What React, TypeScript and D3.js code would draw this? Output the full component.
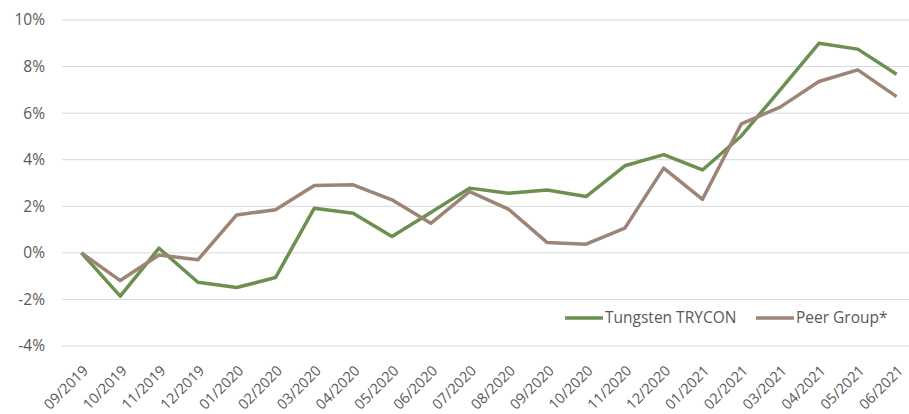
import React, { useRef, useEffect } from "react"
import * as d3 from "d3"

const months = [
  "09/2019", "10/2019", "11/2019", "12/2019", "01/2020", "02/2020", "03/2020",
  "04/2020", "05/2020", "06/2020", "07/2020", "08/2020", "09/2020", "10/2020",
  "11/2020", "12/2020", "01/2021", "02/2021", "03/2021", "04/2021", "05/2021",
  "06/2021",
]
const trycon = [
  0, -1.86, 0.2, -1.26, -1.49, -1.06, 1.92, 1.7, 0.7, 1.73, 2.78, 2.56, 2.7,
  2.42, 3.74, 4.22, 3.56, 5.02, 7.0, 9.0, 8.75, 7.67,
]
const peers = [
  0, -1.19, -0.09, -0.3, 1.63, 1.85, 2.89, 2.92, 2.28, 1.27, 2.63, 1.88, 0.44,
  0.37, 1.06, 3.64, 2.3, 5.54, 6.26, 7.36, 7.86, 6.71,
]
const yTicks = [-4, -2, 0, 2, 4, 6, 8, 10]
const seriesNames = ["Tungsten TRYCON", "Peer Group*"]
const colors = ["#6b904f", "#9c8576"]

const width = 909
const height = 414
const font = "'Open Sans', sans-serif"

export default function App() {
  const ref = useRef<SVGSVGElement>(null)

  useEffect(() => {
    const svg = d3.select(ref.current)
    svg.selectAll("*").remove()

    const x = d3.scaleBand().domain(months).range([62, 916])
    const y = d3.scaleLinear().domain([-4, 10]).range([346, 20])

    // grid + y labels
    const grid = svg.append("g")
    grid
      .selectAll("line")
      .data(yTicks)
      .join("line")
      .attr("x1", 62)
      .attr("x2", 916)
      .attr("y1", d => y(d))
      .attr("y2", d => y(d))
      .attr("stroke", "#d9d9d9")
      .attr("stroke-width", 1)
    grid
      .selectAll("text")
      .data(yTicks)
      .join("text")
      .attr("x", 45)
      .attr("y", d => y(d))
      .attr("dy", "0.35em")
      .attr("text-anchor", "end")
      .attr("font-family", font)
      .attr("font-size", 15.5)
      .attr("fill", "#595959")
      .text(d => d + "%")

    // x labels
    svg
      .append("g")
      .selectAll("text")
      .data(months)
      .join("text")
      .attr("transform", d => `translate(${x(d)! + x.bandwidth() / 2 + 4},${368}) rotate(-45)`)
      .attr("text-anchor", "end")
      .attr("dy", "0.35em")
      .attr("font-family", font)
      .attr("font-size", 14.5)
      .attr("fill", "#595959")
      .text(d => d)

    const line = d3
      .line<number>()
      .x((d, i) => x(months[i])! + x.bandwidth() / 2)
      .y(d => y(d))

    ;[trycon, peers].forEach((vals, k) => {
      svg
        .append("path")
        .datum(vals)
        .attr("d", line)
        .attr("fill", "none")
        .attr("stroke", colors[k])
        .attr("stroke-width", 3.5)
        .attr("stroke-linejoin", "round")
    })

    // legend
    const legendX = [565, 756]
    seriesNames.forEach((name, k) => {
      const g = svg.append("g").attr("transform", `translate(${legendX[k]},318)`)
      g.append("line")
        .attr("x1", 0)
        .attr("x2", 38)
        .attr("stroke", colors[k])
        .attr("stroke-width", 3.5)
      g.append("text")
        .attr("x", 40)
        .attr("dy", "0.35em")
        .attr("font-family", font)
        .attr("font-size", 15.5)
        .attr("fill", "#595959")
        .text(name)
    })
  }, [])

  return (
    <svg
      ref={ref}
      width={width}
      height={height}
      style={{ position: "absolute", left: 0, top: 0, overflow: "hidden" }}
    />
  )
}
